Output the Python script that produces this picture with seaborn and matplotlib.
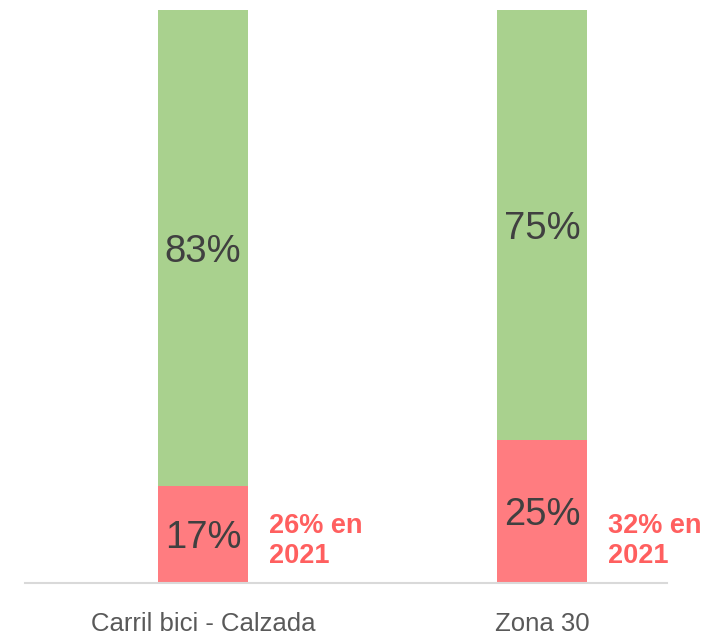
import matplotlib
matplotlib.use("Agg")
import matplotlib.pyplot as plt
import seaborn as sns
import pandas as pd

# Share of users, bottom segment (red) and remainder (green)
categories = ["Carril bici - Calzada", "Zona 30"]
bottom_share = [17, 25]
top_share = [83, 75]
notes = ["26% en\n2021", "32% en\n2021"]

RED = "#FF7C80"
GREEN = "#A9D18E"
DARK = "#404040"
NOTE_RED = "#FF5F5F"

sns.set_theme(style="white")
plt.rcParams["font.family"] = ["Liberation Sans", "DejaVu Sans"]

df = pd.DataFrame({"cat": categories, "bottom": bottom_share, "top": top_share})
df["total"] = df["bottom"] + df["top"]

fig = plt.figure(figsize=(7.18, 6.35), dpi=100)
ax = fig.add_axes([25 / 718, 52 / 635, 642 / 718, 573 / 635])

bw = 90 / 339
sns.barplot(data=df, x="cat", y="total", color=GREEN, width=bw, ax=ax,
            saturation=1, linewidth=0)
sns.barplot(data=df, x="cat", y="bottom", color=RED, width=bw, ax=ax,
            saturation=1, linewidth=0)

for i, (b, t) in enumerate(zip(bottom_share, top_share)):
    ax.text(i, b / 2, f"{b}%", ha="center", va="center_baseline", fontsize=27.5, color=DARK)
    ax.text(i, b + t / 2, f"{t}%", ha="center", va="center_baseline", fontsize=27.5, color=DARK)
    ax.text(i + 0.195, 7.3, notes[i], ha="left", va="center", fontsize=19.5,
            fontweight="bold", color=NOTE_RED, linespacing=1.2)

ax.set_xlim((25 - 203) / 339, (667 - 203) / 339)
ax.set_ylim(0, 100)
ax.set_xlabel("")
ax.set_ylabel("")
ax.set_yticks([])
ax.tick_params(axis="x", length=0, labelsize=18.5, labelcolor="#595959", pad=21)
for side in ["top", "left", "right"]:
    ax.spines[side].set_visible(False)
ax.spines["bottom"].set_color("#D9D9D9")
ax.spines["bottom"].set_linewidth(1.5)

fig.savefig("out.png", dpi=100)
